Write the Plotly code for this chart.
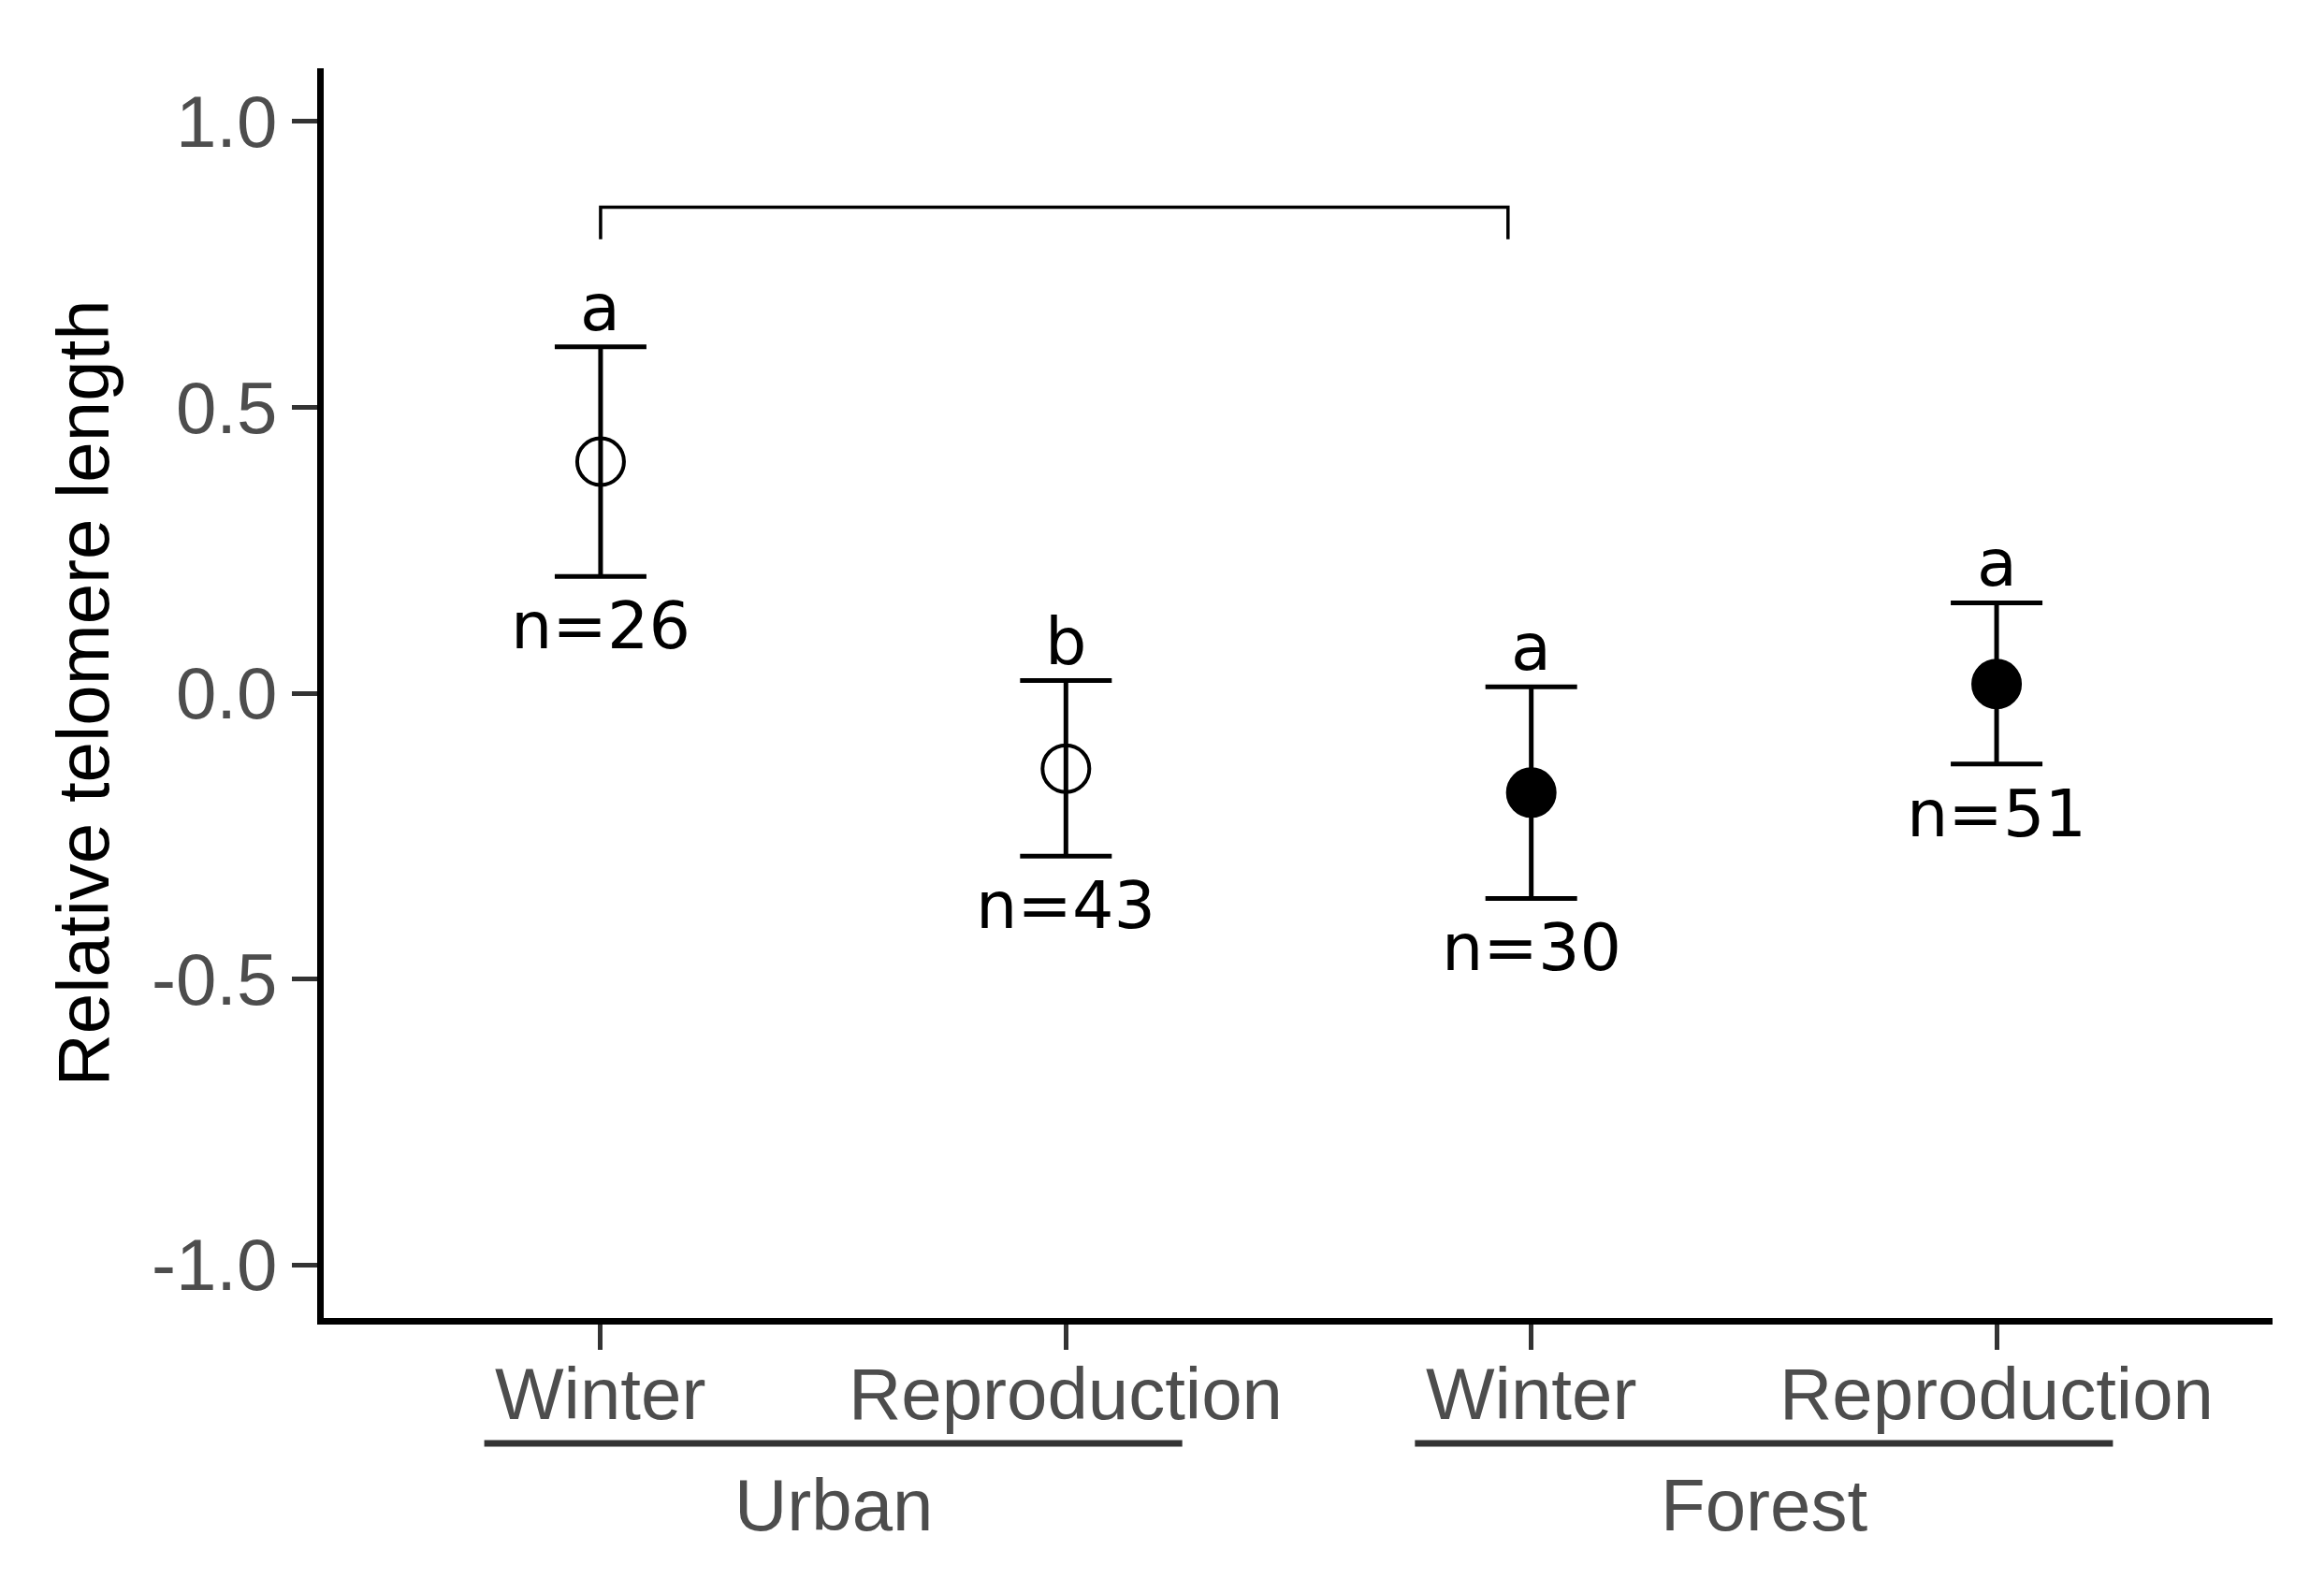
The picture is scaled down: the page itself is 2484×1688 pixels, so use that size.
import plotly.graph_objects as go

# ---- data ----
season = ["Winter", "Reproduction", "Winter", "Reproduction"]
habitat = ["Urban", "Urban", "Forest", "Forest"]
xpos = [1, 2, 3, 4]
mean_rtl = [0.405, -0.132, -0.174, 0.016]
upper_ci = [0.606, 0.022, 0.011, 0.158]
lower_ci = [0.204, -0.285, -0.359, -0.124]
letters = ["a", "b", "a", "a"]
n_labels = ["n=26", "n=43", "n=30", "n=51"]
filled = [False, False, True, True]

group_names = ["Urban", "Forest"]
group_centers = [1.5, 3.5]
group_spans = [(0.75, 2.25), (2.75, 4.25)]

bracket_x = [1.0, 1.0, 2.95, 2.95]
bracket_y = [0.794, 0.85, 0.85, 0.794]

y_ticks = [1.0, 0.5, 0.0, -0.5, -1.0]
y_ticktext = ["1.0", "0.5", "0.0", "-0.5", "-1.0"]

AX_FONT = "Liberation Sans, Arial, sans-serif"
ANN_FONT = "DejaVu Sans, Verdana, sans-serif"

fig = go.Figure()

for i in range(len(xpos)):
    fig.add_trace(go.Scatter(
        x=[xpos[i]], y=[mean_rtl[i]], mode="markers",
        marker=dict(
            symbol="circle" if filled[i] else "circle-open",
            size=50, color="black",
            line=dict(color="black", width=4),
        ),
        error_y=dict(
            type="data", symmetric=False,
            array=[upper_ci[i] - mean_rtl[i]],
            arrayminus=[mean_rtl[i] - lower_ci[i]],
            color="black", thickness=5, width=49,
        ),
        showlegend=False, hoverinfo="skip",
    ))

# significance bracket
fig.add_trace(go.Scatter(
    x=bracket_x, y=bracket_y, mode="lines",
    line=dict(color="black", width=3.5),
    showlegend=False, hoverinfo="skip",
))

# letters and sample sizes
for i in range(len(xpos)):
    fig.add_annotation(x=xpos[i], y=upper_ci[i], text=letters[i],
                       showarrow=False, yanchor="middle", yshift=42,
                       font=dict(family=ANN_FONT, size=70, color="black"))
    fig.add_annotation(x=xpos[i], y=lower_ci[i], text=n_labels[i],
                       showarrow=False, yanchor="middle", yshift=-53,
                       font=dict(family=ANN_FONT, size=70, color="black"))

# season tick labels (below the axis ticks)
for xv, s in zip(xpos, season):
    fig.add_annotation(x=xv, y=-0.0606, xref="x", yref="paper", text=s,
                       showarrow=False, yanchor="middle",
                       font=dict(family=AX_FONT, size=78, color="#4D4D4D"))

# group labels and underline segments
for name, c, (x0, x1) in zip(group_names, group_centers, group_spans):
    fig.add_annotation(x=c, y=-0.1497, xref="x", yref="paper", text=name,
                       showarrow=False, yanchor="middle",
                       font=dict(family=AX_FONT, size=78, color="#4D4D4D"))
    fig.add_shape(type="line", xref="x", yref="paper", x0=x0, x1=x1,
                  y0=-0.1003, y1=-0.1003,
                  line=dict(color="#333333", width=7))

fig.update_layout(
    width=2484, height=1688,
    margin=dict(l=338, r=63, t=65, b=287),
    paper_bgcolor="white", plot_bgcolor="white",
    font=dict(family=AX_FONT, size=78, color="#4D4D4D"),
)

fig.update_xaxes(
    range=[0.405, 4.593], tickvals=xpos, showticklabels=False,
    showgrid=False, zeroline=False,
    showline=True, linecolor="black", linewidth=7,
    ticks="outside", ticklen=27, tickwidth=5, tickcolor="#333333",
)
fig.update_yaxes(
    range=[-1.093, 1.093], tickvals=y_ticks, ticktext=y_ticktext,
    showgrid=False, zeroline=False,
    showline=True, linecolor="black", linewidth=7,
    ticks="outside", ticklen=27, tickwidth=5, tickcolor="#333333",
    tickfont=dict(family=AX_FONT, size=78, color="#4D4D4D"),
    ticklabelstandoff=0,
    title=dict(text="Relative telomere length", standoff=22,
               font=dict(family=AX_FONT, size=78, color="black")),
)

fig.write_html("out.html")
